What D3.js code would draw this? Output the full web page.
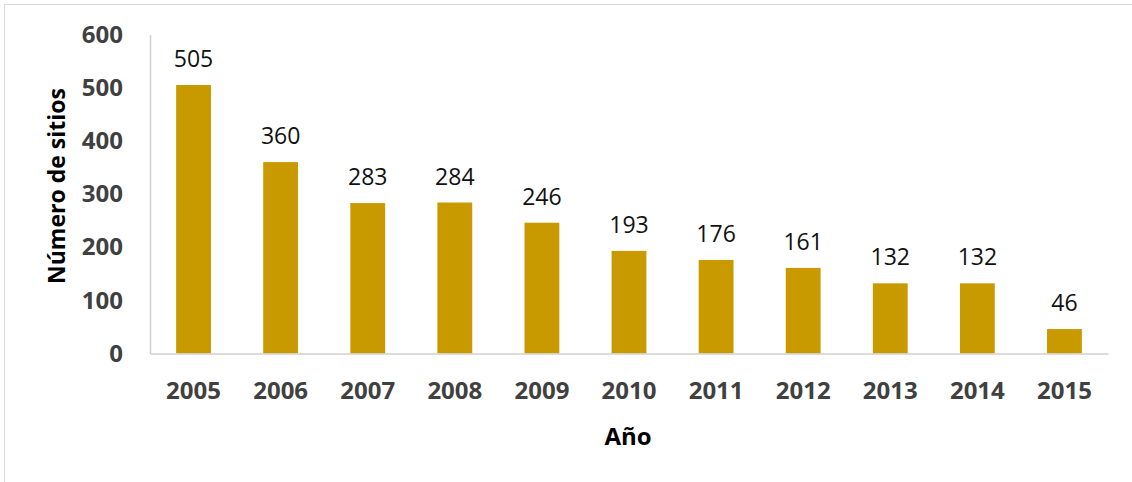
<!DOCTYPE html>
<html>
<head>
<meta charset="utf-8">
<script src="https://cdn.jsdelivr.net/npm/d3@7"></script>
<style>
  html, body { margin: 0; padding: 0; background: #fff; }
  svg { display: block; }
</style>
</head>
<body>
<svg id="chart" width="1132" height="482"></svg>
<script>
// Sitios por año
const years = ["2005", "2006", "2007", "2008", "2009", "2010", "2011", "2012", "2013", "2014", "2015"];
const sitios = [505, 360, 283, 284, 246, 193, 176, 161, 132, 132, 46];
const yTicks = [0, 100, 200, 300, 400, 500, 600];

const W = 1132, H = 482;
const svg = d3.select("#chart");
const font = "'Open Sans', 'Noto Sans', sans-serif";

// chart area frame
svg.append("rect")
  .attr("x", 4.5).attr("y", 4.5)
  .attr("width", W - 2).attr("height", H + 10)
  .attr("fill", "#fff").attr("stroke", "#d9d9d9").attr("stroke-width", 1);

const plot = { left: 150, right: 1108, top: 34.5, bottom: 353.5 };

const x = d3.scaleBand()
  .domain(years)
  .range([plot.left, plot.right])
  .paddingInner(0.6)
  .paddingOuter(0.3);

const y = d3.scaleLinear()
  .domain([0, 600])
  .range([plot.bottom, plot.top]);

// bars
svg.append("g").selectAll("rect")
  .data(years)
  .join("rect")
  .attr("x", (d) => x(d))
  .attr("y", (d, i) => y(sitios[i]))
  .attr("width", x.bandwidth())
  .attr("height", (d, i) => y(0) - y(sitios[i]))
  .attr("fill", "#c99a00");

// value labels
svg.append("g").selectAll("text")
  .data(years)
  .join("text")
  .attr("x", (d) => x(d) + x.bandwidth() / 2)
  .attr("y", (d, i) => y(sitios[i]) - 18)
  .attr("text-anchor", "middle")
  .attr("font-family", font)
  .attr("font-size", 23)
  .attr("fill", "#111")
  .text((d, i) => sitios[i]);

// y axis
const yAxis = d3.axisLeft(y).tickValues(yTicks).tickSize(0).tickPadding(27);
const gy = svg.append("g").attr("transform", `translate(${plot.left},0)`).call(yAxis);
gy.select(".domain").attr("stroke", "#d0d0d0").attr("stroke-width", 1.5);
gy.selectAll("text")
  .attr("font-family", font).attr("font-size", 24).attr("font-weight", 700)
  .attr("fill", "#404040");

// x axis
const xAxis = d3.axisBottom(x).tickSize(0).tickPadding(28);
const gx = svg.append("g").attr("transform", `translate(0,${plot.bottom})`).call(xAxis);
gx.select(".domain").attr("stroke", "#d0d0d0").attr("stroke-width", 1.5);
gx.selectAll("text")
  .attr("font-family", font).attr("font-size", 24).attr("font-weight", 700)
  .attr("fill", "#404040");

// axis titles
svg.append("text")
  .attr("x", 628).attr("y", 445)
  .attr("text-anchor", "middle")
  .attr("font-family", font).attr("font-size", 24).attr("font-weight", 700)
  .attr("fill", "#000")
  .text("Año");

svg.append("text")
  .attr("transform", "translate(65,186) rotate(-90)")
  .attr("text-anchor", "middle")
  .attr("font-family", font).attr("font-size", 23).attr("font-weight", 700)
  .attr("fill", "#000")
  .text("Número de sitios");
</script>
</body>
</html>
